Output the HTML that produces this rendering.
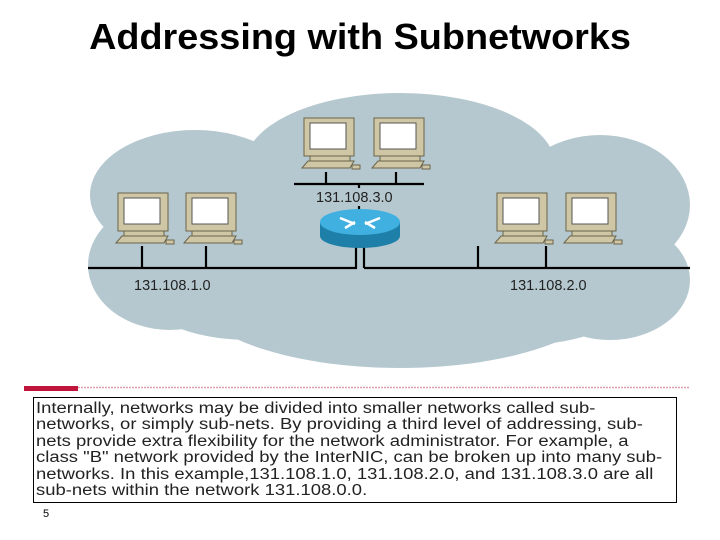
<!DOCTYPE html>
<html><head><meta charset="utf-8"><style>
body{margin:0;width:720px;height:540px;background:#fff;position:relative;overflow:hidden;font-family:"Liberation Sans",sans-serif}
h1{position:absolute;top:16px;left:0;width:720px;text-align:center;margin:0;font-size:36px;font-weight:bold;font-family:"Liberation Sans",sans-serif;transform:scaleX(1.05)}
.box{position:absolute;left:33px;top:397px;width:644px;height:106px;border:1.5px solid #000;box-sizing:border-box;overflow:hidden}
.txt{position:absolute;left:2px;top:3px;font-size:15.5px;line-height:16.4px;color:#222;white-space:nowrap;transform-origin:0 0;transform:scaleX(1.19)}
</style></head><body>
<h1>Addressing with Subnetworks</h1>
<svg width="720" height="400" style="position:absolute;left:0;top:0">
<defs>
<g id="pc">
 <rect x="0" y="0" width="50" height="38" fill="#cfc6a6" stroke="#6b6448" stroke-width="1"/>
 <rect x="6" y="5" width="36" height="26" fill="#fff" stroke="#555"/>
 <rect x="6" y="38" width="40" height="5" fill="#cfc6a6" stroke="#6b6448"/>
 <polygon points="-2,50 4,43 50,43 46,50" fill="#cfc6a6" stroke="#6b6448"/>
 <rect x="48" y="47" width="8" height="4" fill="#cfc6a6" stroke="#6b6448"/>
</g>
</defs>
<g fill="#b5c8d0">
 <ellipse cx="400" cy="165" rx="155" ry="72"/>
 <ellipse cx="195" cy="195" rx="105" ry="65"/>
 <ellipse cx="600" cy="205" rx="90" ry="70"/>
 <ellipse cx="170" cy="265" rx="82" ry="65"/>
 <ellipse cx="610" cy="280" rx="80" ry="60"/>
 <ellipse cx="400" cy="290" rx="210" ry="78"/>
 <ellipse cx="250" cy="290" rx="110" ry="50"/>
 <ellipse cx="520" cy="290" rx="120" ry="55"/>
 <rect x="200" y="170" width="400" height="120"/>
</g>
<g stroke="#000" stroke-width="2.2" fill="none">
 <line x1="88" y1="268" x2="357" y2="268"/>
 <line x1="364" y1="268" x2="690" y2="268"/>
 <line x1="294" y1="184" x2="424" y2="184"/>
 <line x1="356" y1="245" x2="356" y2="268"/>
 <line x1="364" y1="245" x2="364" y2="268"/>
 <line x1="359" y1="184" x2="359" y2="188"/>
 <line x1="359" y1="206" x2="359" y2="213"/>
 <line x1="142" y1="246" x2="142" y2="268"/>
 <line x1="206" y1="246" x2="206" y2="268"/>
 <line x1="478" y1="246" x2="478" y2="268"/>
 <line x1="546" y1="246" x2="546" y2="268"/>
 <line x1="326" y1="172" x2="326" y2="184"/>
 <line x1="396" y1="172" x2="396" y2="184"/>
</g>
<use href="#pc" x="304" y="118"/>
<use href="#pc" x="374" y="118"/>
<use href="#pc" x="118" y="193"/>
<use href="#pc" x="186" y="193"/>
<use href="#pc" x="497" y="193"/>
<use href="#pc" x="566" y="193"/>
<rect x="320" y="222" width="80" height="14" fill="#1e7fa8"/>
<ellipse cx="360" cy="236" rx="40" ry="12" fill="#1e7fa8"/>
<ellipse cx="360" cy="222" rx="40" ry="13" fill="#3fb0e0"/>
<g stroke="#fff" stroke-width="2.5"><line x1="340" y1="218" x2="355" y2="224"/><line x1="380" y1="218" x2="365" y2="224"/><line x1="345" y1="228" x2="355" y2="222"/><line x1="375" y1="228" x2="365" y2="222"/></g>
<g font-size="14.5" fill="#222" font-family="Liberation Sans">
 <text x="316" y="202">131.108.3.0</text>
 <text x="134" y="290">131.108.1.0</text>
 <text x="510" y="290">131.108.2.0</text>
</g>
<rect x="24" y="386" width="54" height="5" fill="#c0143c"/>
<line x1="78" y1="387.5" x2="690" y2="387.5" stroke="#e0a0b0" stroke-width="1.5" stroke-dasharray="2,1"/>
</svg>
<div class="box"><div class="txt">Internally, networks may be divided into smaller networks called sub-<br>networks, or simply sub-nets. By providing a third level of addressing, sub-<br>nets provide extra flexibility for the network administrator. For example, a<br>class "B" network provided by the InterNIC, can be broken up into many sub-<br>networks. In this example,131.108.1.0, 131.108.2.0, and 131.108.3.0 are all<br>sub-nets within the network 131.108.0.0.</div></div>
<div style="position:absolute;left:43px;top:508px;font-size:11px">5</div>
</body></html>
